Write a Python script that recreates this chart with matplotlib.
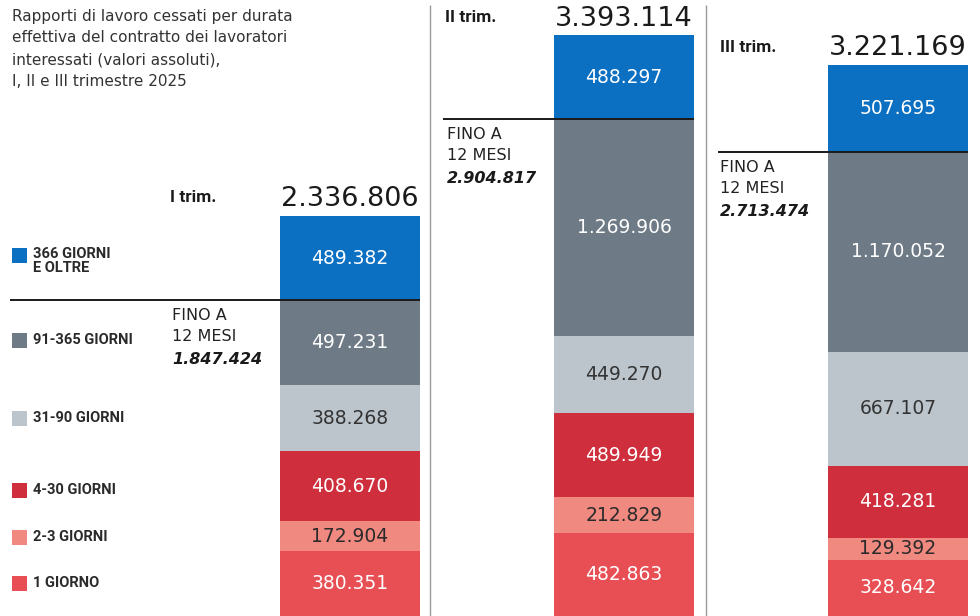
import matplotlib.pyplot as plt
import numpy as np

# categories, bottom -> top of each stack
categories = ['1 GIORNO', '2-3 GIORNI', '4-30 GIORNI', '31-90 GIORNI',
              '91-365 GIORNI', '366 GIORNI\nE OLTRE']
colors = ['#e74f55', '#f08a80', '#cf2e3c', '#bcc5cc', '#6e7a85', '#0b6fc2']
text_colors = ['white', '#2a2a2a', 'white', '#333333', 'white', 'white']

quarters = ['I trim.', 'II trim.', 'III trim.']
q1 = [380351, 172904, 408670, 388268, 497231, 489382]
q2 = [482863, 212829, 489949, 449270, 1269906, 488297]
q3 = [328642, 129392, 418281, 667107, 1170052, 507695]
values = [q1, q2, q3]

title_lines = ['Rapporti di lavoro cessati per durata',
               'effettiva del contratto dei lavoratori',
               'interessati (valori assoluti),',
               'I, II e III trimestre 2025']


def fmt(v):
    return f'{v:,}'.replace(',', '.')


W, H = 980, 616
fig = plt.figure(figsize=(W / 100, H / 100), dpi=100)
ax = fig.add_axes([0, 0, 1, 1])
ax.set_xlim(0, W)
ax.set_ylim(0, 3.6e6)
ax.axis('off')

# overlay in pixel coords for text/legend
ov = fig.add_axes([0, 0, 1, 1], facecolor='none')
ov.set_xlim(0, W)
ov.set_ylim(H, 0)
ov.axis('off')

bar_x = [350, 624, 898]
bar_w = 140
line_x0 = [10, 443, 718]
trim_pos = [(170, 197), (445, 17), (720, 47)]
fino_x = [172, 447, 720]

for i, vals in enumerate(values):
    bottom = 0
    for j, v in enumerate(vals):
        ax.bar(bar_x[i], v, bottom=bottom, width=bar_w, color=colors[j], linewidth=0)
        ax.text(bar_x[i], bottom + v / 2, fmt(v), ha='center', va='center',
                color=text_colors[j], fontsize=13.5)
        bottom += v
    total = bottom
    ax.annotate(fmt(total), (bar_x[i], total), xytext=(0, 7), textcoords='offset points',
                ha='center', va='baseline', fontsize=19.5, color='#1a1a1a')
    # up-to-12-months separator
    fino = sum(vals[:5])
    ax.hlines(fino, line_x0[i], bar_x[i] + bar_w / 2, color='#1a1a1a', lw=1.4)
    yp = H * (1 - fino / 3.6e6)
    ov.text(fino_x[i], yp + 16, 'FINO A', ha='left', va='center', fontsize=11.5, color='#222222')
    ov.text(fino_x[i], yp + 37, '12 MESI', ha='left', va='center', fontsize=11.5, color='#222222')
    ov.text(fino_x[i], yp + 60, fmt(fino), ha='left', va='center', fontsize=11.5,
            color='#1a1a1a', fontweight='bold', fontstyle='italic')
    tx, ty = trim_pos[i]
    ov.text(tx, ty, quarters[i], ha='left', va='center', fontsize=12.5,
            fontweight='bold', color='#1a1a1a', family='Roboto')

# panel dividers
ov.vlines([430, 706], 5, H, color='#9a9a9a', lw=1)

# title
for k, line in enumerate(title_lines):
    ov.text(12, 16 + k * 22, line, ha='left', va='center', fontsize=11, color='#333333')

# legend
leg_y = [583, 537, 490, 418, 340, 255]
for j, cat in enumerate(categories):
    ov.add_patch(plt.Rectangle((12, leg_y[j] - 7.5), 15, 15, color=colors[j], lw=0))
    ty = leg_y[j] + (6 if '\n' in cat else 0)
    ov.text(33, ty, cat, ha='left', va='center', fontsize=10.5, fontweight='bold',
            color='#2a2a2a', family='Roboto', linespacing=0.95)

fig.savefig('out.png', dpi=100)
